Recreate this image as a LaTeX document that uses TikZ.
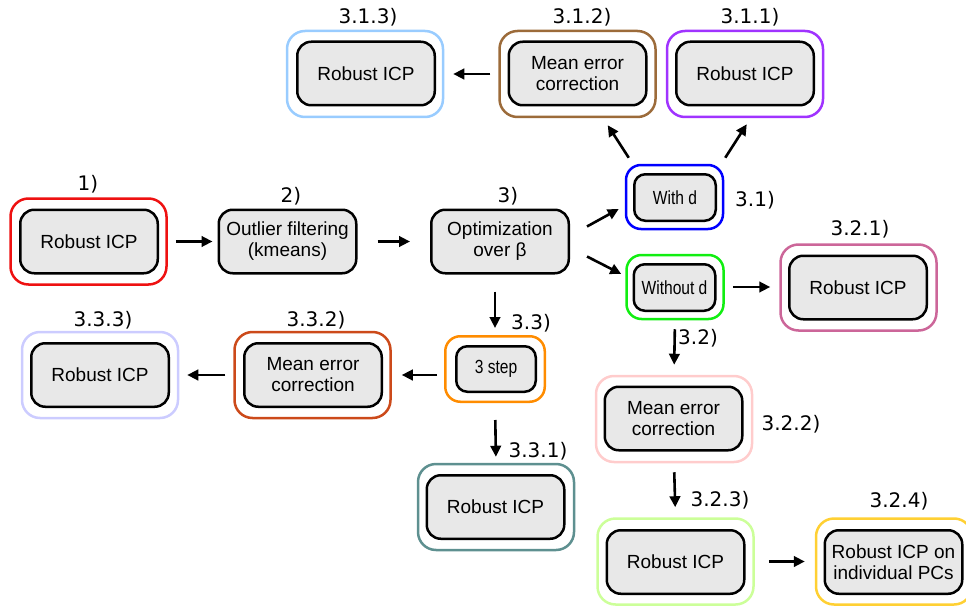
\documentclass[tikz,border=0pt]{standalone}
\usepackage{fontspec}
\setmainfont{Liberation Sans}
\newfontfamily\labfont{DejaVu Sans}
\newfontfamily\narrowfont[FakeStretch=0.82]{Liberation Sans}
\usetikzlibrary{arrows.meta,calc}
\definecolor{boxgray}{HTML}{E8E8E8}
\definecolor{cred}{HTML}{EE1111}
\definecolor{clblue}{HTML}{99CCFF}
\definecolor{cbrown}{HTML}{9C6B3A}
\definecolor{cpurple}{HTML}{A033FF}
\definecolor{cblue}{HTML}{0000FF}
\definecolor{cgreen}{HTML}{11EE11}
\definecolor{cmauve}{HTML}{CC6699}
\definecolor{clpink}{HTML}{FFCCCC}
\definecolor{clgreen}{HTML}{CCFF99}
\definecolor{cyellow}{HTML}{FFD033}
\definecolor{corange}{HTML}{FF8C00}
\definecolor{cdorange}{HTML}{CC4A1A}
\definecolor{clavender}{HTML}{CCCCFF}
\definecolor{cteal}{HTML}{5E9090}
\begin{document}
\begin{tikzpicture}[x=1pt,y=-1pt,
  inbox/.style={draw=black, line width=2.5pt, fill=boxgray, rounded corners=14pt,
    minimum width=137.5pt, minimum height=63.5pt, align=center, inner sep=0pt,
    font=\fontsize{19}{21}\selectfont},
  smallbox/.style={inbox, minimum width=81.5pt, minimum height=46.5pt, rounded corners=11pt,
    font=\narrowfont\fontsize{19}{21}\selectfont},
  outbox/.style={line width=2.5pt, rounded corners=18pt, minimum width=156pt,
    minimum height=86pt, inner sep=0pt},
  smallout/.style={outbox, minimum width=97pt, minimum height=64pt, rounded corners=15pt},
  lab/.style={font=\labfont\fontsize{20}{24}\selectfont, inner sep=0pt},
  arr/.style={line width=2.6pt, -{Triangle[length=11pt,width=10.5pt]}}
]
\useasboundingbox (0,0) rectangle (966,607);

% 1)
\node[outbox, draw=cred] (o1) at (88.5,241.5) {};
\node[inbox] (n1) at (89,241.5) {Robust ICP};
\node[lab] (l1) at (88,184) {1)};
% 2)
\node[inbox] (n2) at (287.5,241.5) {Outlier filtering\\(kmeans)};
\node[lab] (l2) at (291,196) {2)};
% 3)
\node[inbox] (n3) at (500,241.5) {Optimization\\over β};
\node[lab] (l3) at (508,196) {3)};

% 3.1.x
\node[outbox, draw=clblue] (o313) at (365,74) {};
\node[inbox] (n313) at (366,73.5) {Robust ICP};
\node[lab] (l313) at (368,17.5) {3.1.3)};
\node[outbox, draw=cbrown] (o312) at (577.5,74) {};
\node[inbox] (n312) at (577.5,73.5) {Mean error\\correction};
\node[lab] (l312) at (582,17.5) {3.1.2)};
\node[outbox, draw=cpurple] (o311) at (745,74) {};
\node[inbox] (n311) at (745,73.5) {Robust ICP};
\node[lab] (l311) at (750,17.5) {3.1.1)};

% 3.1 / 3.2
\node[smallout, draw=cblue] (o31) at (674.5,197) {};
\node[smallbox] (n31) at (675,197.5) {With d};
\node[lab] (l31) at (755,200) {3.1)};
\node[smallout, draw=cgreen] (o32) at (675,287) {};
\node[smallbox] (n32) at (674.5,287.5) {Without d};
\node[lab] (l32) at (698,338) {3.2)};

% 3.2.x
\node[outbox, draw=cmauve] (o321) at (858.5,287.5) {};
\node[inbox] (n321) at (858,287.5) {Robust ICP};
\node[lab] (l321) at (860,229) {3.2.1)};
\node[outbox, draw=clpink] (o322) at (674,419) {};
\node[inbox] (n322) at (673.5,418.5) {Mean error\\correction};
\node[lab] (l322) at (791,424) {3.2.2)};
\node[outbox, draw=clgreen] (o323) at (675.5,561.5) {};
\node[inbox] (n323) at (675.5,562) {Robust ICP};
\node[lab] (l323) at (720,500) {3.2.3)};
\node[outbox, draw=cyellow] (o324) at (894,561.5) {};
\node[inbox] (n324) at (893.5,562) {Robust ICP on\\individual PCs};
\node[lab] (l324) at (899,501) {3.2.4)};

% 3.3
\node[smallout, minimum width=99.5pt, minimum height=65.5pt, draw=corange] (o33) at (495,369) {};
\node[smallbox, minimum width=79.5pt, minimum height=45.5pt] (n33) at (496,369) {3 step};
\node[lab] (l33) at (531,323) {3.3)};
\node[outbox, draw=cdorange] (o332) at (312.5,375) {};
\node[inbox] (n332) at (313,375) {Mean error\\correction};
\node[lab] (l332) at (316,320) {3.3.2)};
\node[outbox, draw=clavender] (o333) at (100,375) {};
\node[inbox] (n333) at (100,375) {Robust ICP};
\node[lab] (l333) at (103,320) {3.3.3)};
\node[outbox, draw=cteal] (o331) at (496,507) {};
\node[inbox] (n331) at (495.5,507) {Robust ICP};
\node[lab] (l331) at (538,451) {3.3.1)};

% arrows
\draw[arr, shorten <=8pt, shorten >=5pt] (o1.east) -- (n2.west);
\draw[arr, shorten <=20pt, shorten >=20pt] (n2.east) -- (n3.west);
\draw[arr] ($(n3.east)+(17,-15)$) -- ($(o31.west)+(-6,12)$);
\draw[arr] ($(n3.east)+(17,15)$) -- ($(o32.west)+(-4,-13)$);
\draw[arr] ($(o31.north west)+(4,-6)$) -- ($(o312.south east)+(-49,7)$);
\draw[arr] ($(o31.north east)+(1,-6)$) -- ($(o311.south west)+(81,6)$);
\draw[arr, shorten <=8pt, shorten >=9pt] (o312.west) -- (o313.east);
\draw[arr, shorten <=8pt, shorten >=9pt] (o32.east) -- (o32.east -| o321.west);
\draw[arr, shorten <=9pt, shorten >=10pt] (o32.south) -- (o322.north);
\draw[arr, shorten <=9pt, shorten >=10pt] (o322.south) -- (o323.north);
\draw[arr, shorten <=14pt, shorten >=10pt] (o323.east) -- (o324.west);
\draw[arr, shorten <=17pt, shorten >=7pt] (n3.south -| o33.north) -- (o33.north);
\draw[arr, shorten <=17pt, shorten >=6pt] (o33.south) -- (o331.north);
\draw[arr, shorten <=7pt, shorten >=10pt] (o33.west |- o332.east) -- (o332.east);
\draw[arr, shorten <=8pt, shorten >=8pt] (o332.west) -- (o333.east);
\end{tikzpicture}
\end{document}
